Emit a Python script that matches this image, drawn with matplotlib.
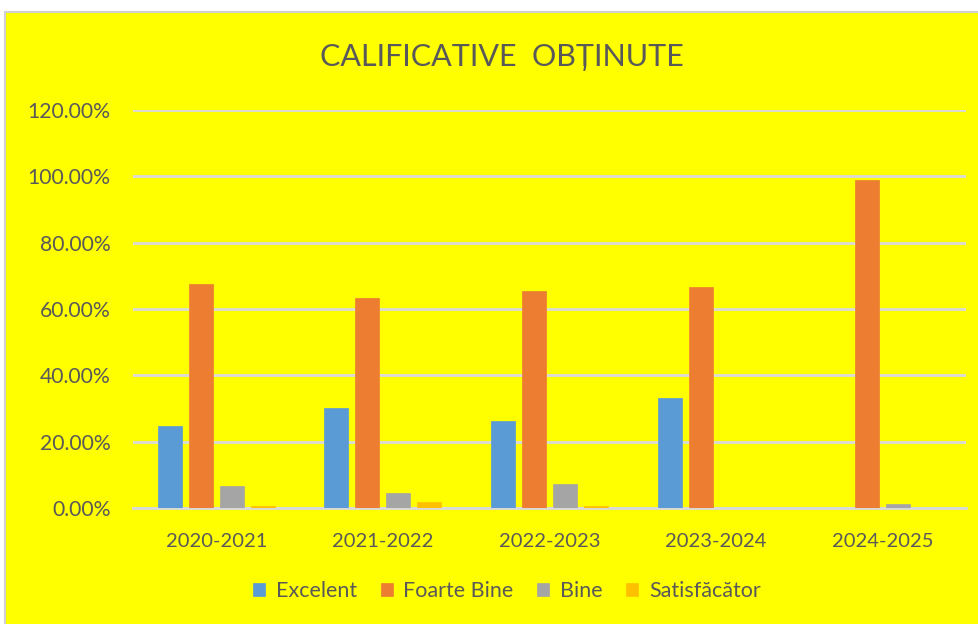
import matplotlib
matplotlib.use("Agg")
import matplotlib.pyplot as plt
import numpy as np
from matplotlib.patches import Rectangle
from matplotlib.ticker import FuncFormatter

categories = ["2020-2021", "2021-2022", "2022-2023", "2023-2024", "2024-2025"]
series_names = ["Excelent", "Foarte Bine", "Bine", "Satisfăcător"]
excelent = [0.247, 0.301, 0.262, 0.332, 0.0]
foarte_bine = [0.676, 0.633, 0.655, 0.667, 0.989]
bine = [0.067, 0.044, 0.071, 0.0, 0.011]
satisfacator = [0.006, 0.018, 0.006, 0.0, 0.0]
values = [excelent, foarte_bine, bine, satisfacator]
colors = ["#5B9BD5", "#ED7D31", "#A5A5A5", "#FFC000"]
yticks = [0, 0.2, 0.4, 0.6, 0.8, 1.0, 1.2]

plt.rcParams['font.family'] = ['Lato', 'DejaVu Sans']
W, H = 979, 624
fig = plt.figure(figsize=(W/100, H/100), dpi=100)
fig.patch.set_facecolor("white")
bg = Rectangle((5/W, -0.01), 1, (H-12)/H + 0.01, transform=fig.transFigure,
               facecolor="#FFFF00", edgecolor="#D0D0D0", linewidth=1.5, zorder=-10)
fig.add_artist(bg)

ax = fig.add_axes([133/W, 116/H, (966-133)/W, (508-110)/H])
ax.set_zorder(1)
ax.set_facecolor("none")
x = np.arange(len(categories))
pitch = 0.186
width = 0.144
for i, (name, vals, c) in enumerate(zip(series_names, values, colors)):
    ax.bar(x + (i - 1.5) * pitch, vals, width, color=c, label=name, zorder=3,
           edgecolor=c, linewidth=0.5)

ax.set_xlim(-0.5, len(categories) - 0.5)
ax.set_ylim(0, 1.2)
ax.set_yticks(yticks)
ax.yaxis.set_major_formatter(FuncFormatter(lambda v, p: f"{v*100:.2f}%"))
ax.set_xticks(x)
ax.set_xticklabels(categories)
ax.grid(axis="y", color="#D9D9D9", linewidth=2, zorder=0)
ax.set_axisbelow(True)
for s in ["top", "right", "left"]:
    ax.spines[s].set_visible(False)
ax.spines["bottom"].set_color("#D9D9D9")
ax.spines["bottom"].set_linewidth(2)
ax.tick_params(axis="both", length=0, labelcolor="#595959")
ax.tick_params(axis="x", labelsize=14.5, pad=18)
ax.tick_params(axis="y", labelsize=15.2, pad=16)

fig.text(502/W, 1 - 57/H, "CALIFICATIVE  OBȚINUTE", ha="center", va="center",
         fontsize=22, color="#595959")

handles, labels = ax.get_legend_handles_labels()
leg = fig.legend(handles, labels, loc="center", bbox_to_anchor=(507/W, 1 - 591/H),
                 ncol=4, frameon=False, fontsize=15.5, handlelength=0.55, handleheight=0.55,
                 handletextpad=0.5, columnspacing=1.1)
for t in leg.get_texts():
    t.set_color("#595959")

fig.savefig("out.png", dpi=100)
